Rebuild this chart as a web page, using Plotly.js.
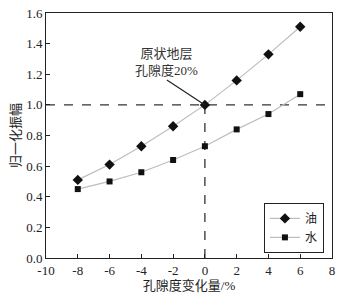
<!DOCTYPE html>
<html>
<head>
<meta charset="utf-8">
<script src="https://cdn.plot.ly/plotly-3.0.1.min.js"></script>
<style>html,body{margin:0;padding:0;background:#fff;}#chart{width:351px;height:295px;}</style>
</head>
<body>
<div id="chart"></div>
<script>
const porosityChange = [-8, -6, -4, -2, 0, 2, 4, 6];
const oilAmplitude = [0.51, 0.61, 0.73, 0.86, 1.00, 1.16, 1.33, 1.51];
const waterAmplitude = [0.45, 0.50, 0.56, 0.64, 0.73, 0.84, 0.94, 1.07];
const seriesNames = ['油', '水'];
const refLevel = 1.0;
const refX = 0;
const xTicks = [-10, -8, -6, -4, -2, 0, 2, 4, 6, 8];
const yTicks = [0.0, 0.2, 0.4, 0.6, 0.8, 1.0, 1.2, 1.4, 1.6];
const annotationText = '原状地层<br>孔隙度20%';

const FONT = '"Liberation Serif", "Noto Sans CJK SC", serif';

const traces = [
  {
    x: porosityChange, y: oilAmplitude, name: seriesNames[0],
    mode: 'lines+markers', type: 'scatter',
    line: {color: '#bdbdbd', width: 1.2},
    marker: {symbol: 'diamond', size: 8, color: '#111'}
  },
  {
    x: porosityChange, y: waterAmplitude, name: seriesNames[1],
    mode: 'lines+markers', type: 'scatter',
    line: {color: '#bdbdbd', width: 1.2},
    marker: {symbol: 'square', size: 6, color: '#111'}
  }
];

const layout = {
  width: 351, height: 295,
  margin: {l: 46, r: 19, t: 13, b: 37},
  paper_bgcolor: '#fff', plot_bgcolor: '#fff',
  font: {family: FONT, size: 13, color: '#222'},
  showlegend: true,
  legend: {
    x: 0.762, y: 0.225, xanchor: 'left', yanchor: 'top',
    bordercolor: '#222', borderwidth: 1, bgcolor: '#fff',
    font: {family: FONT, size: 12, color: '#222'},
    itemwidth: 30, tracegroupgap: 0
  },
  xaxis: {
    range: [-10, 8], tickvals: xTicks, ticktext: xTicks.map(String),
    ticks: 'inside', ticklen: 4, tickcolor: '#222',
    showline: true, linecolor: '#222', linewidth: 1, mirror: true,
    showgrid: false, zeroline: false,
    tickfont: {family: FONT, size: 13, color: '#222'},
    title: {text: '孔隙度变化量/%', font: {family: FONT, size: 13, color: '#222'}, standoff: 2}
  },
  yaxis: {
    range: [0, 1.6], tickvals: yTicks, ticktext: yTicks.map(v => v.toFixed(1)),
    ticks: 'inside', ticklen: 4, tickcolor: '#222',
    showline: true, linecolor: '#222', linewidth: 1, mirror: true,
    showgrid: false, zeroline: false,
    tickfont: {family: FONT, size: 13, color: '#222'},
    title: {text: '归一化振幅', font: {family: FONT, size: 13, color: '#222'}, standoff: 2}
  },
  shapes: [
    {type: 'line', xref: 'paper', x0: 0, x1: 1, yref: 'y', y0: refLevel, y1: refLevel,
     line: {color: '#333', width: 1.3, dash: 'dash'}, layer: 'below'},
    {type: 'line', xref: 'x', x0: refX, x1: refX, yref: 'y', y0: 0, y1: refLevel,
     line: {color: '#333', width: 1.3, dash: 'dash'}, layer: 'below'}
  ],
  annotations: [
    {x: refX, y: refLevel, xref: 'x', yref: 'y', text: annotationText,
     showarrow: true, arrowhead: 0, arrowwidth: 1.2, arrowcolor: '#222',
     ax: -38, ay: -25, xanchor: 'center', yanchor: 'bottom',
     align: 'center', font: {family: FONT, size: 13, color: '#333'}}
  ]
};

Plotly.newPlot('chart', traces, layout, {displayModeBar: false, staticPlot: true});
</script>
</body>
</html>
